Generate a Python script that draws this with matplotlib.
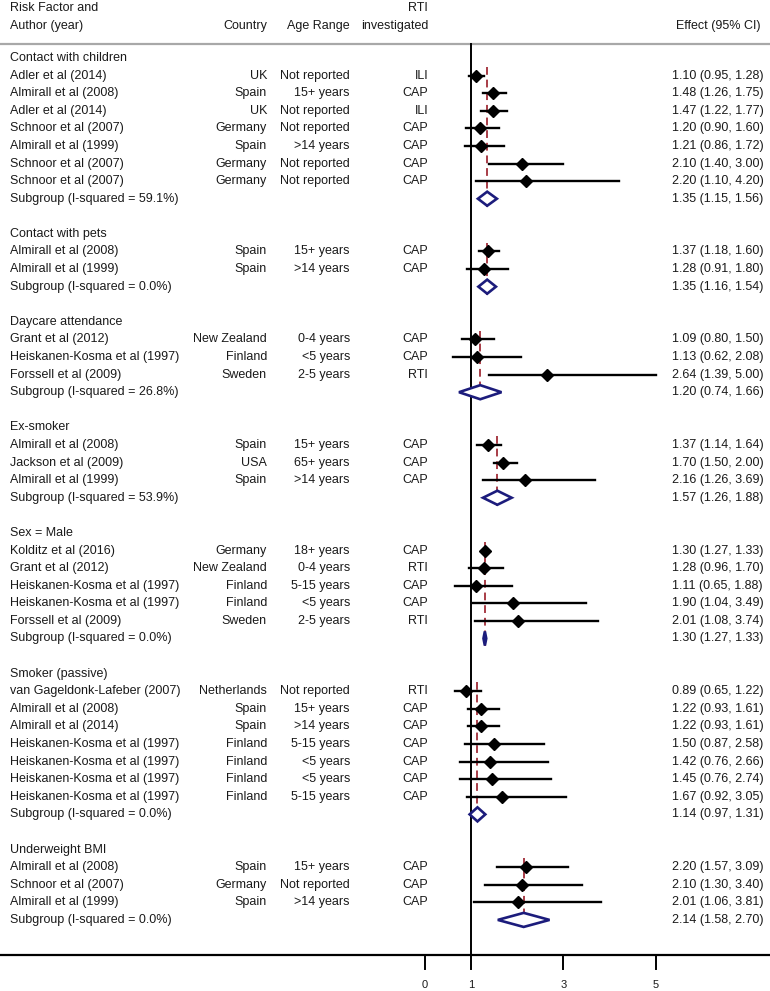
import numpy as np
import matplotlib.pyplot as plt
from matplotlib import transforms
from matplotlib.patches import Polygon

plt.rcParams['font.family'] = ['Liberation Sans', 'DejaVu Sans']
plt.rcParams['font.size'] = 9.0

# Subgroups (risk factors) with pooled estimates
groups = ['Contact with children', 'Contact with pets', 'Daycare attendance', 'Ex-smoker',
          'Sex = Male', 'Smoker (passive)', 'Underweight BMI']
group_i2 = [59.1, 0.0, 26.8, 53.9, 0.0, 0.0, 0.0]
group_est = [1.35, 1.35, 1.20, 1.57, 1.30, 1.14, 2.14]
group_lo = [1.15, 1.16, 0.74, 1.26, 1.27, 0.97, 1.58]
group_hi = [1.56, 1.54, 1.66, 1.88, 1.33, 1.31, 2.70]

# Individual studies
study_group = [0, 0, 0, 0, 0, 0, 0,
               1, 1,
               2, 2, 2,
               3, 3, 3,
               4, 4, 4, 4, 4,
               5, 5, 5, 5, 5, 5, 5,
               6, 6, 6]
authors = ['Adler et al (2014)', 'Almirall et al (2008)', 'Adler et al (2014)', 'Schnoor et al (2007)',
           'Almirall et al (1999)', 'Schnoor et al (2007)', 'Schnoor et al (2007)',
           'Almirall et al (2008)', 'Almirall et al (1999)',
           'Grant et al (2012)', 'Heiskanen-Kosma et al (1997)', 'Forssell et al (2009)',
           'Almirall et al (2008)', 'Jackson et al (2009)', 'Almirall et al (1999)',
           'Kolditz et al (2016)', 'Grant et al (2012)', 'Heiskanen-Kosma et al (1997)',
           'Heiskanen-Kosma et al (1997)', 'Forssell et al (2009)',
           'van Gageldonk-Lafeber (2007)', 'Almirall et al (2008)', 'Almirall et al (2014)',
           'Heiskanen-Kosma et al (1997)', 'Heiskanen-Kosma et al (1997)',
           'Heiskanen-Kosma et al (1997)', 'Heiskanen-Kosma et al (1997)',
           'Almirall et al (2008)', 'Schnoor et al (2007)', 'Almirall et al (1999)']
countries = ['UK', 'Spain', 'UK', 'Germany', 'Spain', 'Germany', 'Germany',
             'Spain', 'Spain',
             'New Zealand', 'Finland', 'Sweden',
             'Spain', 'USA', 'Spain',
             'Germany', 'New Zealand', 'Finland', 'Finland', 'Sweden',
             'Netherlands', 'Spain', 'Spain', 'Finland', 'Finland', 'Finland', 'Finland',
             'Spain', 'Germany', 'Spain']
ages = ['Not reported', '15+ years', 'Not reported', 'Not reported', '>14 years', 'Not reported', 'Not reported',
        '15+ years', '>14 years',
        '0-4 years', '<5 years', '2-5 years',
        '15+ years', '65+ years', '>14 years',
        '18+ years', '0-4 years', '5-15 years', '<5 years', '2-5 years',
        'Not reported', '15+ years', '>14 years', '5-15 years', '<5 years', '<5 years', '5-15 years',
        '15+ years', 'Not reported', '>14 years']
rti = ['ILI', 'CAP', 'ILI', 'CAP', 'CAP', 'CAP', 'CAP',
       'CAP', 'CAP',
       'CAP', 'CAP', 'RTI',
       'CAP', 'CAP', 'CAP',
       'CAP', 'RTI', 'CAP', 'CAP', 'RTI',
       'RTI', 'CAP', 'CAP', 'CAP', 'CAP', 'CAP', 'CAP',
       'CAP', 'CAP', 'CAP']
est = [1.10, 1.48, 1.47, 1.20, 1.21, 2.10, 2.20,
       1.37, 1.28,
       1.09, 1.13, 2.64,
       1.37, 1.70, 2.16,
       1.30, 1.28, 1.11, 1.90, 2.01,
       0.89, 1.22, 1.22, 1.50, 1.42, 1.45, 1.67,
       2.20, 2.10, 2.01]
lo = [0.95, 1.26, 1.22, 0.90, 0.86, 1.40, 1.10,
      1.18, 0.91,
      0.80, 0.62, 1.39,
      1.14, 1.50, 1.26,
      1.27, 0.96, 0.65, 1.04, 1.08,
      0.65, 0.93, 0.93, 0.87, 0.76, 0.76, 0.92,
      1.57, 1.30, 1.06]
hi = [1.28, 1.75, 1.77, 1.60, 1.72, 3.00, 4.20,
      1.60, 1.80,
      1.50, 2.08, 5.00,
      1.64, 2.00, 3.69,
      1.33, 1.70, 1.88, 3.49, 3.74,
      1.22, 1.61, 1.61, 2.58, 2.66, 2.74, 3.05,
      3.09, 3.40, 3.81]
xticks = [0, 1, 3, 5]

W, H = 770, 991
fig = plt.figure(figsize=(W / 100, H / 100), dpi=100)
ax = fig.add_axes([0, 0, 1, 1])
ax.axis('off')

# map pixels: x=1 at 471 px, 46.2 px per unit; row 0 at 58 px, 17.59 px per row
ax.set_xlim(1 - 471 / 46.2, 1 + (W - 471) / 46.2)
ax.set_ylim((H - 58) / 17.59, -58 / 17.59)

tr = transforms.blended_transform_factory(fig.transFigure, ax.transData)
txt = '#1a1a1a'

def col(px):
    return px / W

# header
ax.text(col(10), -2.84, 'Risk Factor and', transform=tr, va='center', color=txt)
ax.text(col(10), -1.82, 'Author (year)', transform=tr, va='center', color=txt)
ax.text(col(267), -1.82, 'Country', transform=tr, va='center', ha='right', color=txt)
ax.text(col(350), -1.82, 'Age Range', transform=tr, va='center', ha='right', color=txt)
ax.text(col(428), -2.84, 'RTI', transform=tr, va='center', ha='right', color=txt)
ax.text(col(428), -1.82, 'investigated', transform=tr, va='center', ha='right', color=txt)
ax.text(col(760), -1.82, 'Effect (95% CI)', transform=tr, va='center', ha='right', color=txt)

ax.plot([0, 1], [-0.8, -0.8], transform=tr, color='#a8a8a8', lw=1.6, solid_capstyle='butt')
ax.plot([0, 1], [51.0, 51.0], transform=tr, color='black', lw=1.6, solid_capstyle='butt')
ax.plot([1, 1], [-0.8, 51.0], color='black', lw=1.4)

# rows
r = 0
for g in range(len(groups)):
    ax.text(col(10), r, groups[g], transform=tr, va='center', color=txt)
    idx = [i for i in range(len(est)) if study_group[i] == g]
    first = r + 1
    for i in idx:
        r += 1
        ax.text(col(10), r, authors[i], transform=tr, va='center', color=txt)
        ax.text(col(267), r, countries[i], transform=tr, va='center', ha='right', color=txt)
        ax.text(col(350), r, ages[i], transform=tr, va='center', ha='right', color=txt)
        ax.text(col(428), r, rti[i], transform=tr, va='center', ha='right', color=txt)
        ax.text(col(672), r, '%.2f (%.2f, %.2f)' % (est[i], lo[i], hi[i]), transform=tr, va='center', color=txt)
        ax.plot([lo[i], hi[i]], [r, r], color='black', lw=1.7, zorder=3)
        ax.plot(est[i], r, marker='D', ms=6.2, color='black', zorder=4)
    r += 1
    ax.text(col(10), r, 'Subgroup (I-squared = %.1f%%)' % group_i2[g], transform=tr, va='center', color=txt)
    ax.text(col(672), r, '%.2f (%.2f, %.2f)' % (group_est[g], group_lo[g], group_hi[g]),
            transform=tr, va='center', color=txt)
    ax.plot([group_est[g], group_est[g]], [first - 0.5, r + 0.45], color='#a83c46', lw=1.4,
            dashes=(4, 2.5), zorder=2)
    h = 0.4
    ax.add_patch(Polygon([[group_lo[g], r], [group_est[g], r - h], [group_hi[g], r], [group_est[g], r + h]],
                         closed=True, facecolor='white', edgecolor='#1c1c7c', lw=1.9, zorder=5))
    r += 2

# x axis ticks
for t in xticks:
    ax.plot([t, t], [51.0, 51.8], color='black', lw=1.4)
    ax.text(t, 52.7, str(t), ha='center', va='center', color=txt, fontsize=8)

fig.savefig('out.png', dpi=100)
